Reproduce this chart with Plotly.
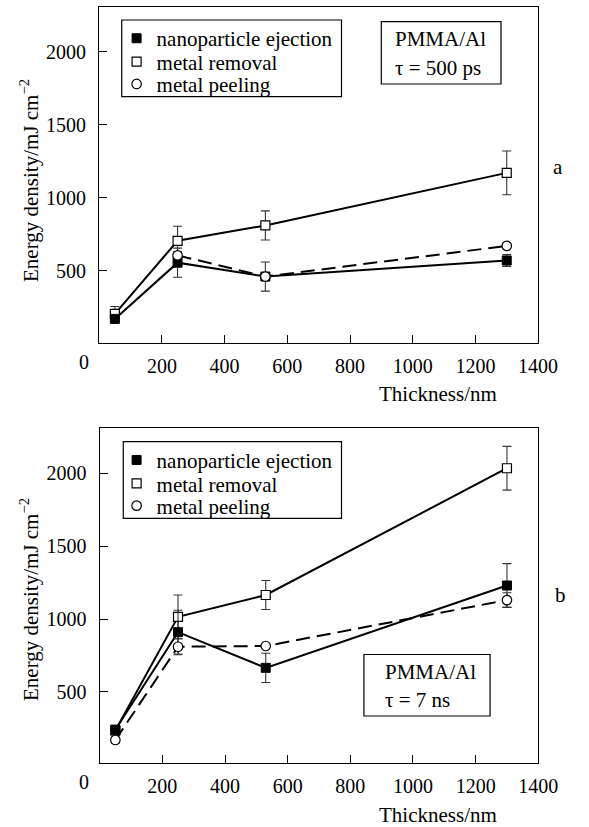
import plotly.graph_objects as go

# ---------------- data ----------------
thickness = [50, 250, 530, 1300]
peel_thickness_a = [250, 530, 1300]

# panel a: tau = 500 ps
nano_a = [170, 555, 460, 570]
nano_a_err = [20, 100, 100, 40]
removal_a = [205, 705, 810, 1170]
removal_a_err = [50, 100, 100, 150]
peel_a = [605, 460, 670]
peel_a_err = [25, 0, 0]

# panel b: tau = 7 ns
nano_b = [240, 910, 665, 1230]
nano_b_err = [30, 150, 100, 150]
removal_b = [235, 1015, 1165, 2035]
removal_b_err = [30, 150, 100, 150]
peel_b = [170, 810, 815, 1130]
peel_b_err = [20, 55, 0, 50]

x_ticks = [200, 400, 600, 800, 1000, 1200, 1400]
y_ticks = [500, 1000, 1500, 2000]
series_names = ["nanoparticle ejection", "metal removal", "metal peeling"]
panel_labels = ["a", "b"]
box_texts = [("PMMA/Al", "τ = 500 ps"), ("PMMA/Al", "τ = 7 ns")]
x_title = "Thickness/nm"
y_title = "Energy density/mJ cm<sup>−2</sup>"

# ---------------- layout helpers ----------------
W, H = 589, 827
FONT = "Liberation Serif, Times New Roman, serif"
FS = 21      # text size
TFS = 20     # tick label size


def px(x):
    return x / W


def py(y):
    return 1 - y / H


ERR_COLOR = "#333333"
DASH = "14px,7px"

styles = {
    "nano": dict(symbol="square", size=9, color="black", line=dict(color="black", width=1)),
    "removal": dict(symbol="square", size=9, color="white", line=dict(color="black", width=1.2)),
    "peel": dict(symbol="circle", size=9.5, color="white", line=dict(color="black", width=1.2)),
}

fig = go.Figure()


def err(arr):
    return dict(type="data", array=arr, visible=True, color=ERR_COLOR, thickness=1.1, width=4.5)


# legend entry positions (pixel y of each legend row) per panel
legend_rows = [[38.3, 61.7, 84.0], [460.0, 483.4, 505.7]]
LEG_MARKER_X = 140.7

panels = [
    dict(xa="x", ya="y", nano=nano_a, nano_err=nano_a_err, rem=removal_a, rem_err=removal_a_err,
         peel_x=peel_thickness_a, peel=peel_a, peel_err=peel_a_err),
    dict(xa="x2", ya="y2", nano=nano_b, nano_err=nano_b_err, rem=removal_b, rem_err=removal_b_err,
         peel_x=thickness, peel=peel_b, peel_err=peel_b_err),
]

legend_layouts = {}
leg_idx = 1
for pi, p in enumerate(panels):
    fig.add_trace(go.Scatter(x=thickness, y=p["rem"], mode="lines+markers", xaxis=p["xa"], yaxis=p["ya"],
                             line=dict(color="black", width=2), marker=styles["removal"],
                             error_y=err(p["rem_err"]), showlegend=False))
    fig.add_trace(go.Scatter(x=thickness, y=p["nano"], mode="lines+markers", xaxis=p["xa"], yaxis=p["ya"],
                             line=dict(color="black", width=2), marker=styles["nano"],
                             error_y=err(p["nano_err"]), showlegend=False))
    fig.add_trace(go.Scatter(x=p["peel_x"], y=p["peel"], mode="lines+markers", xaxis=p["xa"], yaxis=p["ya"],
                             line=dict(color="black", width=2, dash=DASH), marker=styles["peel"],
                             error_y=err(p["peel_err"]), showlegend=False))
    # legend-only entries (marker only, as in the reference), one legend per row
    for key, name, row_y in zip(["nano", "removal", "peel"], series_names, legend_rows[pi]):
        lname = "legend" if leg_idx == 1 else "legend%d" % leg_idx
        fig.add_trace(go.Scatter(x=[None], y=[None], mode="markers", xaxis=p["xa"], yaxis=p["ya"],
                                 marker=styles[key], name=name, legend=lname, showlegend=True))
        # plotly places the symbol 20 px from the legend's left edge, row centre ~20 px below its top
        legend_layouts[lname] = dict(x=px(LEG_MARKER_X - 20), y=py(row_y - 20.2),
                                     xanchor="left", yanchor="top", bgcolor="rgba(0,0,0,0)",
                                     borderwidth=0, itemwidth=30,
                                     font=dict(family=FONT, size=FS, color="black"))
        leg_idx += 1

# axes geometry (pixel boxes)
boxes = [
    dict(l=102.7, r=557, t=7.3, b=342.7),
    dict(l=103.2, r=557.2, t=428.3, b=763.3),
]
yranges = [[7, 2304], [10, 2309]]

axis_common = dict(showline=True, linecolor="black", linewidth=1.3, mirror=True,
                   ticks="inside", ticklen=8, tickwidth=1.2, tickcolor="black",
                   showgrid=False, zeroline=False,
                   tickfont=dict(family=FONT, size=TFS, color="black"))

layout_axes = {}
for i, bx in enumerate(boxes):
    sfx = "" if i == 0 else str(i + 1)
    layout_axes["xaxis" + sfx] = dict(axis_common, domain=[px(bx["l"]), px(bx["r"])], range=[0, 1400],
                                      tickvals=x_ticks, anchor="y" + sfx, ticklabelstandoff=5)
    layout_axes["yaxis" + sfx] = dict(axis_common, domain=[py(bx["b"]), py(bx["t"])], range=yranges[i],
                                      tickvals=y_ticks, anchor="x" + sfx, ticklabelstandoff=8)

annotations = []
shapes = []

# per-panel decorations
legend_boxes = [dict(l=126, r=353.5, t=20, b=96.7), dict(l=127.6, r=353.5, t=441.7, b=518.3)]
info_boxes = [dict(l=394.7, r=518.6, t=21.7, b=84, tx=407, y1=38.5, y2=67.5),
              dict(l=376.7, r=507.3, t=654.5, b=716, tx=396, y1=671.7, y2=699.5)]
label_pos = [(578, 167), (580, 595)]
xtitle_pos = [(517, 393.5), (517, 815)]
zero_pos = [(87, 361.7), (87, 781.7)]
ytitle_pos = [(30, 180), (30, 599)]

for i in range(2):
    lb = legend_boxes[i]
    shapes.append(dict(type="rect", xref="paper", yref="paper", x0=px(lb["l"]), x1=px(lb["r"]),
                       y0=py(lb["b"]), y1=py(lb["t"]), line=dict(color="black", width=1.2)))
    ib = info_boxes[i]
    shapes.append(dict(type="rect", xref="paper", yref="paper", x0=px(ib["l"]), x1=px(ib["r"]),
                       y0=py(ib["b"]), y1=py(ib["t"]), line=dict(color="black", width=1.2)))
    for txt, yy in zip(box_texts[i], [ib["y1"], ib["y2"]]):
        annotations.append(dict(text=txt, xref="paper", yref="paper", x=px(ib["tx"]), y=py(yy),
                                xanchor="left", yanchor="middle", showarrow=False,
                                font=dict(family=FONT, size=FS, color="black")))
    annotations.append(dict(text=panel_labels[i], xref="paper", yref="paper", x=px(label_pos[i][0]),
                            y=py(label_pos[i][1]), xanchor="center", yanchor="middle", showarrow=False,
                            font=dict(family=FONT, size=FS, color="black")))
    annotations.append(dict(text=x_title, xref="paper", yref="paper", x=px(xtitle_pos[i][0]),
                            y=py(xtitle_pos[i][1]), xanchor="right", yanchor="middle", showarrow=False,
                            font=dict(family=FONT, size=FS, color="black")))
    annotations.append(dict(text="0", xref="paper", yref="paper", x=px(zero_pos[i][0]),
                            y=py(zero_pos[i][1]), xanchor="center", yanchor="middle", showarrow=False,
                            font=dict(family=FONT, size=TFS, color="black")))
    annotations.append(dict(text=y_title, xref="paper", yref="paper", x=px(ytitle_pos[i][0]),
                            y=py(ytitle_pos[i][1]), xanchor="center", yanchor="middle", showarrow=False,
                            textangle=-90, font=dict(family=FONT, size=FS, color="black")))

fig.update_layout(
    width=W, height=H, autosize=False,
    margin=dict(l=0, r=0, t=0, b=0),
    paper_bgcolor="white", plot_bgcolor="white",
    annotations=annotations, shapes=shapes,
    **legend_layouts,
    **layout_axes,
)

fig.write_html("out.html")
